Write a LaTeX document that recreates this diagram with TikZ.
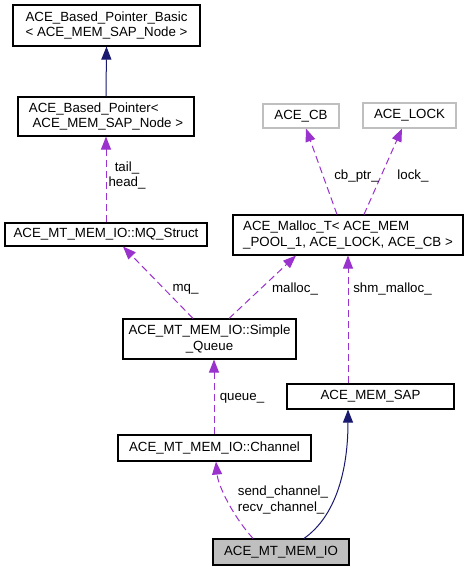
\documentclass[tikz,border=0pt]{standalone}
\usepackage{fontspec}
\setmainfont{Liberation Sans}
\usetikzlibrary{arrows.meta}
\definecolor{inhcol}{HTML}{191970}
\definecolor{usecol}{HTML}{9A32CD}
\definecolor{greybd}{HTML}{BFBFBF}
\begin{document}
\begin{tikzpicture}[x=1pt,y=-1pt,
  font=\fontsize{13.3}{15.3}\selectfont,
  cls/.style={draw=black, line width=1.1pt, rectangle, inner sep=0pt, fill=white},
  ext/.style={draw=greybd, line width=1.1pt, rectangle, inner sep=0pt, fill=white},
  cur/.style={draw=black, line width=1.1pt, rectangle, inner sep=0pt, fill=greybd},
  inh/.style={draw=inhcol, line width=1pt, -{Triangle[length=13pt,width=10pt]}},
  usg/.style={draw=usecol, line width=1pt, dash pattern=on 7pt off 4pt, -{Triangle[length=13pt,width=10pt]}},
  lbl/.style={inner sep=0pt, align=left}]
\useasboundingbox (0,0) rectangle (469,571);
\fill[white] (0,0) rectangle (469,571);

\node[cls, minimum width=187pt, minimum height=41pt, align=center] (basic) at (106.5,25.5) {ACE\_Based\_Pointer\_Basic\\< ACE\_MEM\_SAP\_Node >};
\node[cls, minimum width=176pt, minimum height=39pt, align=left] (bp) at (106,116.5) {ACE\_Based\_Pointer<\\\ ACE\_MEM\_SAP\_Node >};
\node[cls, minimum width=202pt, minimum height=23pt] (mq) at (106,234.5) {ACE\_MT\_MEM\_IO::MQ\_Struct};
\node[ext, minimum width=76pt, minimum height=24pt] (cb) at (301,116) {ACE\_CB};
\node[ext, minimum width=93pt, minimum height=25pt] (lock) at (409.5,115.5) {ACE\_LOCK};
\node[cls, minimum width=230pt, minimum height=40pt, align=left] (malloc) at (348,235) {ACE\_Malloc\_T< ACE\_MEM\\\_POOL\_1, ACE\_LOCK, ACE\_CB >};
\node[cls, minimum width=173pt, minimum height=40pt, align=center] (sq) at (209.5,339) {ACE\_MT\_MEM\_IO::Simple\\\_Queue};
\node[cls, minimum width=167pt, minimum height=25pt] (sap) at (370.5,396.5) {ACE\_MEM\_SAP};
\node[cls, minimum width=193pt, minimum height=26pt] (ch) at (214.5,448) {ACE\_MT\_MEM\_IO::Channel};
\node[cur, minimum width=136pt, minimum height=26pt] (io) at (281,552) {ACE\_MT\_MEM\_IO};

% connectors
\draw[inh] (bp.north) -- (basic.south);
\draw[usg] (mq.north) -- (bp.south);
\draw[usg] ([xshift=-16.5pt]sq.north) -- ([xshift=17pt]mq.south);
\draw[usg] ([xshift=19.5pt]sq.north) -- ([xshift=-52pt]malloc.south);
\draw[usg] ([xshift=-11pt]malloc.north) -- ([xshift=5pt]cb.south);
\draw[usg] ([xshift=16pt]malloc.north) -- ([xshift=-7.5pt]lock.south);
\draw[usg] ([xshift=-22.5pt]sap.north) -- (malloc.south);
\draw[usg] ([xshift=-0.5pt]ch.north) -- ([xshift=4.5pt]sq.south);
\draw[usg] ([xshift=-28pt]io.north) .. controls (232,515) and (218,485) .. ([xshift=1.5pt]ch.south);
\draw[inh] ([xshift=23pt]io.north) .. controls (336,516) and (348,470) .. ([xshift=-22.5pt]sap.south);

% labels
\node[lbl, align=center] (ltail) at (127,175.5) {tail\_\\head\_};
\node[lbl] (lmq) at (185.5,289) {mq\_};
\node[lbl] (lmalloc) at (295,289) {malloc\_};
\node[lbl] (lcb) at (356.5,176) {cb\_ptr\_};
\node[lbl] (llock) at (413,176) {lock\_};
\node[lbl] (lshm) at (392.5,289) {shm\_malloc\_};
\node[lbl] (lqueue) at (242,398) {queue\_};
\node[lbl] (lch) at (283,500) {send\_channel\_\\recv\_channel\_};
\end{tikzpicture}
\end{document}
